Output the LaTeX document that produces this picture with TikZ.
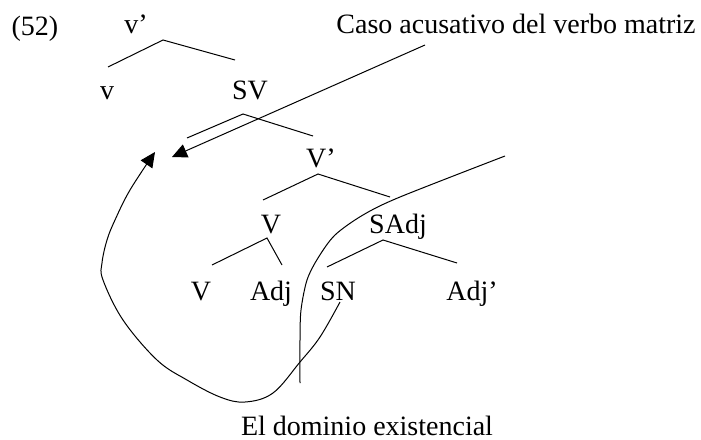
\documentclass[tikz,border=0pt]{standalone}
\usepackage{fontspec}
\setmainfont{Liberation Serif}
\usetikzlibrary{arrows.meta}

\begin{document}
\begin{tikzpicture}[
  x=0.5pt, y=-0.5pt,
  >={Triangle[length=7.5pt, width=7pt]},
  lbl/.style={anchor=base, inner sep=0pt, font=\fontsize{14}{16}\selectfont},
  branch/.style={line width=0.5pt},
  arr/.style={->, line width=0.5pt},
]
\useasboundingbox (0,0) rectangle (701,439);

\node[lbl] (ex) at (35,35) {(52)};
\node[lbl] (vbar) at (136,33) {v'};
\node[lbl] (cap) at (516,33) {Caso acusativo del verbo matriz};
\node[lbl] (v) at (107,99) {v};
\node[lbl] (sv) at (250,99) {SV};
\node[lbl] (Vbar) at (321,167) {V'};
\node[lbl] (Vup) at (271,233) {V};
\node[lbl] (sadj) at (398,233) {SAdj};
\node[lbl] (Vlow) at (201,300) {V};
\node[lbl] (adj) at (271,300) {Adj};
\node[lbl] (sn) at (338,300) {SN};
\node[lbl] (adjbar) at (472,300) {Adj'};
\node[lbl] (dom) at (367,435) {El dominio existencial};

\coordinate (vbarT) at (163,40);
\coordinate (svT) at (243,114);
\coordinate (VbarT) at (318,174);
\coordinate (VupT) at (267,238);
\coordinate (sadjT) at (383,240);

\draw[branch] (108,67) -- (vbarT) -- (235,60);
\draw[branch] (187,138) -- (svT) -- (313,136);
\draw[branch] (263,200) -- (VbarT) -- (390,197);
\draw[branch] (212,265) -- (VupT) -- (282,265);
\draw[branch] (327,267) -- (sadjT) -- (457,263);

\coordinate (capfoot) at (425,45);
\coordinate (captip) at (172,157);
\draw[arr] (capfoot) -- (captip);

\coordinate (snfoot) at (340,302);
\coordinate (looptip) at (155,152);
\draw[arr] plot[smooth, tension=0.6] coordinates {
  (snfoot) (320,337) (300,362) (273,393) (245,402) (220,397) (187,380)
  (157,360) (123,320) (103,280) (102,263) (107,240) (115,220) (130,190)
  (looptip)};

\coordinate (domtop) at (505,156);
\coordinate (domfoot) at (300,383);
\draw[branch] plot[smooth, tension=0.5] coordinates {
  (domtop) (400,197) (363,215) (335,235) (318,258) (307,280) (301,310)
  (300,340) (domfoot)};

\end{tikzpicture}
\end{document}
